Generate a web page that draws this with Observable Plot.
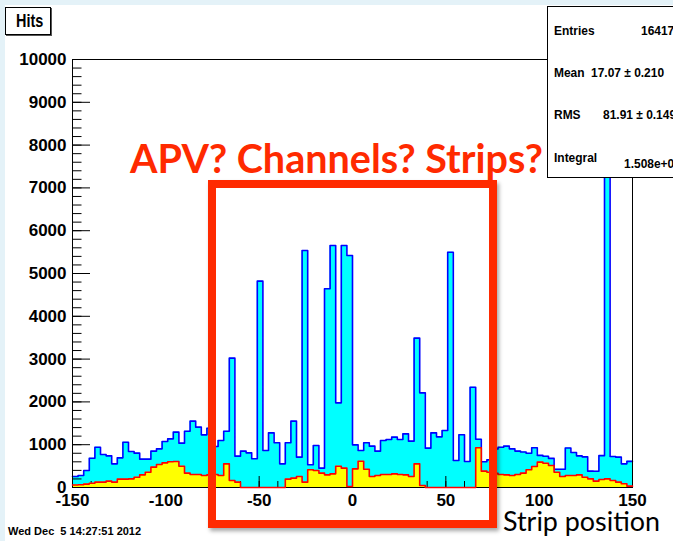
<!DOCTYPE html>
<html>
<head>
<meta charset="utf-8">
<script src="https://cdn.jsdelivr.net/npm/d3@7"></script>
<script src="https://cdn.jsdelivr.net/npm/@observablehq/plot@0.6"></script>
<style>
  html, body { margin: 0; padding: 0; }
  body { width: 673px; height: 541px; overflow: hidden; position: relative; background: #e4f2f8; font-family: "Liberation Sans", Arial, sans-serif; }
  #canvas { position: absolute; left: 5px; top: 5px; width: 668px; height: 536px; background: #fff; }
  #chart { position: absolute; left: 0; top: 0; }
  .abs { position: absolute; white-space: nowrap; }
  #titlebox { left: 5px; top: 7px; width: 44px; height: 26px; border: 1px solid #000; background: #fff; box-shadow: 1px 1px 0 #555; }
  #titlebox span { position: absolute; left: 10px; top: 3px; font-weight: bold; font-size: 18.5px; line-height: 20px; transform: scaleX(0.78); transform-origin: left center; }
  #stats { left: 547px; top: 6px; width: 140px; height: 170px; border: 1px solid #000; background: #fff; }
  .slab, .sval { position: absolute; font-weight: bold; font-size: 13px; line-height: 13px; transform: scaleX(0.92); transform-origin: left center; }
  #date { left: 8px; top: 525px; font-size: 11px; font-weight: bold; }
  #xlabel { left: 503px; top: 504px; font-family: Lato, "Open Sans", sans-serif; font-size: 26px; color: #000; }
  #note { left: 130px; top: 134px; font-family: Lato, "Open Sans", sans-serif; font-weight: bold; font-size: 38px; color: #ff2a00; }
  #box { left: 208px; top: 180px; width: 289px; height: 348px; box-sizing: border-box; border: 8px solid #ff2a00; box-shadow: 2px 3px 4px rgba(0,0,0,0.35); }
</style>
</head>
<body>
<div id="canvas"></div>
<div id="chart"></div>
<div id="titlebox" class="abs"><span>Hits</span></div>
<div id="stats" class="abs"></div>
<div id="date" class="abs">Wed Dec&nbsp;&nbsp;5 14:27:51 2012</div>
<div id="box" class="abs"></div>
<div id="note" class="abs">APV? Channels? Strips?</div>
<div id="xlabel" class="abs">Strip position</div>
<script>
// ---- data (100 bins of width 3 from -150 to 150) ----
const cyanHits = [
  257, 280, 397, 685, 942, 771, 740, 553, 693, 1059,
  841, 802, 662, 662, 849, 903, 1075, 1137, 1293, 1036,
  1316, 1550, 1410, 1230, 1386, 958, 1098, 1316, 3022, 732,
  849, 810, 670, 4821, 864, 1277, 1044, 553, 1044, 1550,
  709, 5537, 530, 981, 452, 4642, 5654, 1978, 5654, 5421,
  997, 864, 1044, 966, 849, 1098, 1121, 1176, 1121, 1254,
  1083, 3489, 2212, 919, 1277, 1184, 1332, 5498, 631, 1231,
  607, 2344, 1129, 600, 646, 900, 940, 966, 903, 850,
  830, 800, 930, 750, 730, 680, 428, 428, 923, 818,
  740, 716, 382, 378, 744, 9520, 724, 709, 552, 611
];
const yellowHits = [
  60, 65, 80, 101, 125, 125, 148, 125, 195, 195,
  202, 241, 296, 358, 475, 537, 576, 600, 607, 498,
  335, 304, 304, 280, 296, 304, 280, 553, 164, 125,
  0, 0, 0, 0, 0, 0, 0, 0, 195, 218,
  257, 125, 413, 397, 335, 296, 319, 498, 452, 23,
  436, 615, 428, 257, 280, 304, 304, 319, 304, 296,
  257, 553, 47, 0, 0, 0, 0, 0, 0, 0,
  0, 0, 927, 382, 358, 330, 304, 296, 280, 304,
  335, 413, 491, 592, 568, 514, 358, 257, 280, 280,
  296, 241, 202, 148, 187, 202, 164, 125, 86, 31
];
const xDomain = [-150, 150];
const yDomain = [0, 10000];
const binEdges = d3.range(-150, 151, 3);
const xMajorTicks = [-150, -100, -50, 0, 50, 100, 150];
const xMinorTicks = d3.range(-150, 151, 10);
const yMajorTicks = [0, 1000, 2000, 3000, 4000, 5000, 6000, 7000, 8000, 9000, 10000];
const yMinorTicks = d3.range(0, 10001, 200);
const statsLabels = ["Entries", "Mean", "RMS", "Integral"];
const statsValues = ["16417", "17.07 \u00b1 0.210", "81.91 \u00b1 0.149", "1.508e+0"];

const steps = (vals) => binEdges.map((x, i) => ({x, v: vals[Math.min(i, vals.length - 1)]}));
const cyanSteps = steps(cyanHits);
const yellowSteps = steps(yellowHits);

const fmt = d => String(d);
const chart = Plot.plot({
  width: 673, height: 541,
  marginLeft: 72, marginRight: 41, marginTop: 59, marginBottom: 54,
  style: {background: "transparent", fontFamily: "Liberation Sans, Arial, sans-serif", color: "#000"},
  x: {domain: xDomain, axis: null},
  y: {domain: yDomain, axis: null},
  marks: [
    Plot.areaY(cyanSteps, {x: "x", y: "v", curve: "step-after", fill: "#00ffff"}),
    Plot.lineY(cyanSteps, {x: "x", y: "v", curve: "step-after", stroke: "#0000ff", strokeWidth: 1.6}),
    Plot.axisX({ticks: xMinorTicks, anchor: "top", frameAnchor: "bottom", tickSize: 7, tickFormat: () => "", label: null, stroke: "#000"}),
    Plot.axisX({ticks: xMajorTicks, anchor: "top", frameAnchor: "bottom", tickSize: 12, tickFormat: () => "", label: null, stroke: "#000"}),
    Plot.axisY({ticks: yMinorTicks, anchor: "right", frameAnchor: "left", tickSize: 8.5, tickFormat: () => "", label: null, stroke: "#000"}),
    Plot.axisY({ticks: yMajorTicks, anchor: "right", frameAnchor: "left", tickSize: 17, tickFormat: () => "", label: null, stroke: "#000"}),
    Plot.areaY(yellowSteps, {x: "x", y: "v", curve: "step-after", fill: "#ffff00"}),
    Plot.frame({stroke: "#000", strokeWidth: 1}),
    Plot.lineY(yellowSteps, {x: "x", y: "v", curve: "step-after", stroke: "#ff0000", strokeWidth: 1.6}),
    Plot.axisX({ticks: xMajorTicks, anchor: "bottom", tickSize: 0, tickPadding: 6, tickFormat: fmt, label: null, fontSize: 17, fontWeight: "bold", fill: "#000"}),
    Plot.axisY({ticks: yMajorTicks, anchor: "left", tickSize: 0, tickPadding: 6, tickFormat: fmt, label: null, fontSize: 17, fontWeight: "bold", fill: "#000"})
  ]
});
document.getElementById("chart").appendChild(chart);

// stats box
const stats = document.getElementById("stats");
const labelTops = [17, 59, 101, 144];
const valueLefts = [93, 43, 55, 76];
const valueTops = [17, 59, 101, 150];
statsLabels.forEach((t, i) => {
  const l = document.createElement("div");
  l.className = "slab"; l.textContent = t;
  l.style.left = "6px"; l.style.top = labelTops[i] + "px";
  stats.appendChild(l);
  const v = document.createElement("div");
  v.className = "sval"; v.textContent = statsValues[i];
  v.style.left = valueLefts[i] + "px"; v.style.top = valueTops[i] + "px";
  stats.appendChild(v);
});

// fit annotation texts to their widths in the reference
function fitWidth(id, target) {
  const el = document.getElementById(id);
  const w = el.getBoundingClientRect().width;
  const fs = parseFloat(getComputedStyle(el).fontSize);
  el.style.fontSize = (fs * target / w) + "px";
}
fitWidth("note", 413);
fitWidth("xlabel", 157);
</script>
</body>
</html>
